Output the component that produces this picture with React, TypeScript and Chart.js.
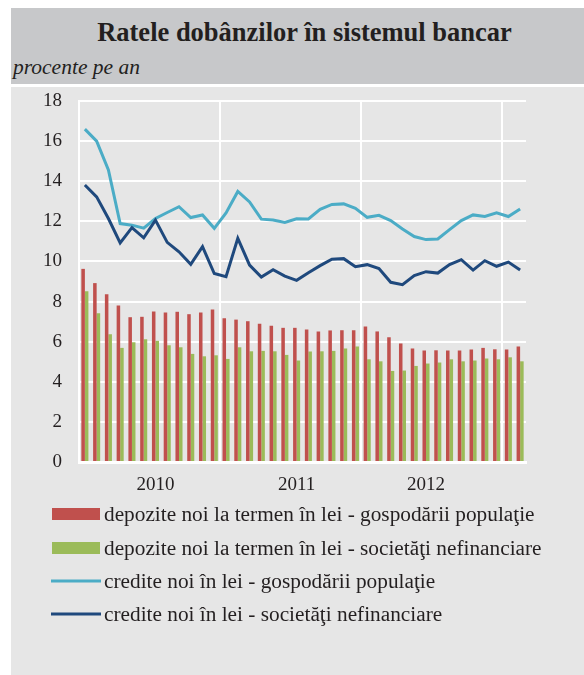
import React, { useEffect, useRef } from 'react';
import { Chart, registerables } from 'chart.js';

Chart.register(...registerables);

const categories = [
  '2010-01', '2010-02', '2010-03', '2010-04', '2010-05', '2010-06', '2010-07', '2010-08', '2010-09', '2010-10', '2010-11', '2010-12',
  '2011-01', '2011-02', '2011-03', '2011-04', '2011-05', '2011-06', '2011-07', '2011-08', '2011-09', '2011-10', '2011-11', '2011-12',
  '2012-01', '2012-02', '2012-03', '2012-04', '2012-05', '2012-06', '2012-07', '2012-08', '2012-09', '2012-10', '2012-11', '2012-12',
  '2013-01', '2013-02',
];

const yearTickLabels = ['2010', '2011', '2012'];
const yearTickIndex = [6, 18, 29];
const yearBoundaryIndex = [12, 24, 36];

const depoziteGospodarii = [
  9.63, 8.92, 8.37, 7.8, 7.22, 7.24, 7.5, 7.45, 7.49, 7.37,
  7.45, 7.6, 7.17, 7.1, 7.02, 6.89, 6.79, 6.69, 6.69, 6.61,
  6.51, 6.56, 6.57, 6.57, 6.76, 6.51, 6.22, 5.91, 5.66, 5.56,
  5.57, 5.56, 5.56, 5.61, 5.69, 5.62, 5.61, 5.76,
];

const depoziteSocietati = [
  8.52, 7.42, 6.37, 5.69, 5.97, 6.12, 6.04, 5.82, 5.72, 5.39,
  5.27, 5.32, 5.14, 5.72, 5.52, 5.54, 5.52, 5.34, 5.06, 5.51,
  5.52, 5.54, 5.66, 5.76, 5.12, 5.02, 4.54, 4.56, 4.79, 4.91,
  4.96, 5.12, 5.02, 5.06, 5.16, 5.12, 5.22, 5.02,
];

const crediteGospodarii = [
  16.6, 16.0, 14.56, 11.89, 11.81, 11.66, 12.14, 12.44, 12.73, 12.19,
  12.32, 11.65, 12.42, 13.49, 12.97, 12.11, 12.07, 11.94, 12.13, 12.12,
  12.6, 12.84, 12.87, 12.65, 12.2, 12.3, 12.04, 11.62, 11.24, 11.09,
  11.12, 11.59, 12.04, 12.32, 12.24, 12.42, 12.24, 12.62,
];

const crediteSocietati = [
  13.81, 13.22, 12.14, 10.93, 11.69, 11.18, 12.06, 10.95, 10.48, 9.86,
  10.74, 9.4, 9.24, 11.15, 9.82, 9.22, 9.59, 9.27, 9.06, 9.44,
  9.79, 10.11, 10.14, 9.74, 9.84, 9.65, 8.96, 8.84, 9.29, 9.49,
  9.42, 9.84, 10.09, 9.57, 10.04, 9.76, 9.97, 9.57,
];

const seriesLabels = [
  'depozite noi la termen în lei - gospodării populaţie',
  'depozite noi la termen în lei - societăţi nefinanciare',
  'credite noi în lei - gospodării populaţie',
  'credite noi în lei - societăţi nefinanciare',
];

const seriesColors = ['#c0504d', '#9bbb59', '#4bacc6', '#1f497d'];

const FONT = '"Liberation Serif", "Times New Roman", serif';
const TEXT_COLOR = '#231f20';

const legendPlugin = {
  id: 'customLegend',
  afterDraw(chart: any) {
    const ctx = chart.ctx as CanvasRenderingContext2D;
    const rows = [514, 548, 581, 614];
    ctx.save();
    ctx.font = `21.3px ${FONT}`;
    ctx.textBaseline = 'middle';
    ctx.textAlign = 'left';
    chart.data.datasets.forEach((ds: any, i: number) => {
      const y = rows[i];
      if (ds.type === 'line') {
        ctx.strokeStyle = ds.borderColor;
        ctx.lineWidth = 3;
        ctx.beginPath();
        ctx.moveTo(51, y);
        ctx.lineTo(101, y);
        ctx.stroke();
      } else {
        ctx.fillStyle = ds.backgroundColor;
        ctx.fillRect(52, y - 6, 48, 12);
      }
      ctx.fillStyle = TEXT_COLOR;
      ctx.fillText(ds.label, 104, y + 1);
    });
    ctx.restore();
  },
};

export default function App() {
  const canvasRef = useRef<HTMLCanvasElement | null>(null);

  useEffect(() => {
    document.body.style.margin = '0';
    const canvas = canvasRef.current;
    if (!canvas) return;
    const chart = new Chart(canvas, {
      type: 'bar',
      data: {
        labels: categories,
        datasets: [
          {
            type: 'bar',
            label: seriesLabels[0],
            data: depoziteGospodarii,
            backgroundColor: seriesColors[0],
            categoryPercentage: 0.6,
            barPercentage: 1.0,
            order: 2,
          },
          {
            type: 'bar',
            label: seriesLabels[1],
            data: depoziteSocietati,
            backgroundColor: seriesColors[1],
            categoryPercentage: 0.6,
            barPercentage: 1.0,
            order: 2,
          },
          {
            type: 'line',
            label: seriesLabels[2],
            data: crediteGospodarii,
            borderColor: seriesColors[2],
            backgroundColor: seriesColors[2],
            borderWidth: 3,
            pointRadius: 0,
            tension: 0,
            order: 1,
          },
          {
            type: 'line',
            label: seriesLabels[3],
            data: crediteSocietati,
            borderColor: seriesColors[3],
            backgroundColor: seriesColors[3],
            borderWidth: 3,
            pointRadius: 0,
            tension: 0,
            order: 0,
          },
        ] as any,
      },
      options: {
        animation: false,
        responsive: false,
        maintainAspectRatio: false,
        layout: { padding: { left: 0, top: 101, right: 58, bottom: 173 } },
        plugins: {
          legend: { display: false },
          tooltip: { enabled: false },
          title: { display: false },
        },
        scales: {
          x: {
            offset: true,
            grid: {
              offset: true,
              drawTicks: false,
              lineWidth: 2,
              color: (ctx: any) => (yearBoundaryIndex.includes(ctx.index) ? '#ffffff' : 'rgba(0,0,0,0)'),
            },
            border: { display: true, color: '#ffffff', width: 3 },
            ticks: {
              autoSkip: false,
              maxRotation: 0,
              minRotation: 0,
              padding: 12,
              color: TEXT_COLOR,
              font: { family: FONT, size: 19 },
              callback: (_v: any, i: number) => {
                const k = yearTickIndex.indexOf(i);
                return k >= 0 ? yearTickLabels[k] : '';
              },
            },
            afterFit: (s: any) => {
              s.height = 40;
            },
          },
          y: {
            min: 0,
            max: 18,
            grid: { color: '#ffffff', lineWidth: 2, drawTicks: false },
            border: { display: true, color: '#ffffff', width: 2 },
            ticks: {
              stepSize: 2,
              padding: 17,
              color: TEXT_COLOR,
              font: { family: FONT, size: 19 },
            },
            afterFit: (s: any) => {
              s.width = 79;
            },
          },
        },
      },
      plugins: [legendPlugin],
    });
    return () => chart.destroy();
  }, []);

  return (
    <div style={{ position: 'relative', width: 584, height: 675, background: '#ffffff', overflow: 'hidden' }}>
      <div style={{ position: 'absolute', left: 11, top: 8, width: 573, height: 76, background: '#c7c8ca' }} />
      <div
        style={{
          position: 'absolute',
          left: 11,
          top: 16,
          width: 573,
          paddingLeft: 14,
          boxSizing: 'border-box',
          textAlign: 'center',
          fontFamily: FONT,
          fontWeight: 'bold',
          fontSize: 26.5,
          lineHeight: '32px',
          color: TEXT_COLOR,
        }}
      >
        Ratele dobânzilor în sistemul bancar
      </div>
      <div
        style={{
          position: 'absolute',
          left: 13,
          top: 54,
          fontFamily: FONT,
          fontStyle: 'italic',
          fontSize: 21.5,
          lineHeight: '26px',
          color: TEXT_COLOR,
        }}
      >
        procente pe an
      </div>
      <div style={{ position: 'absolute', left: 11, top: 87, width: 573, height: 588, background: '#e6e6e6' }} />
      <canvas
        ref={canvasRef}
        width={584}
        height={675}
        style={{ position: 'absolute', left: 0, top: 0, width: 584, height: 675 }}
      />
    </div>
  );
}
